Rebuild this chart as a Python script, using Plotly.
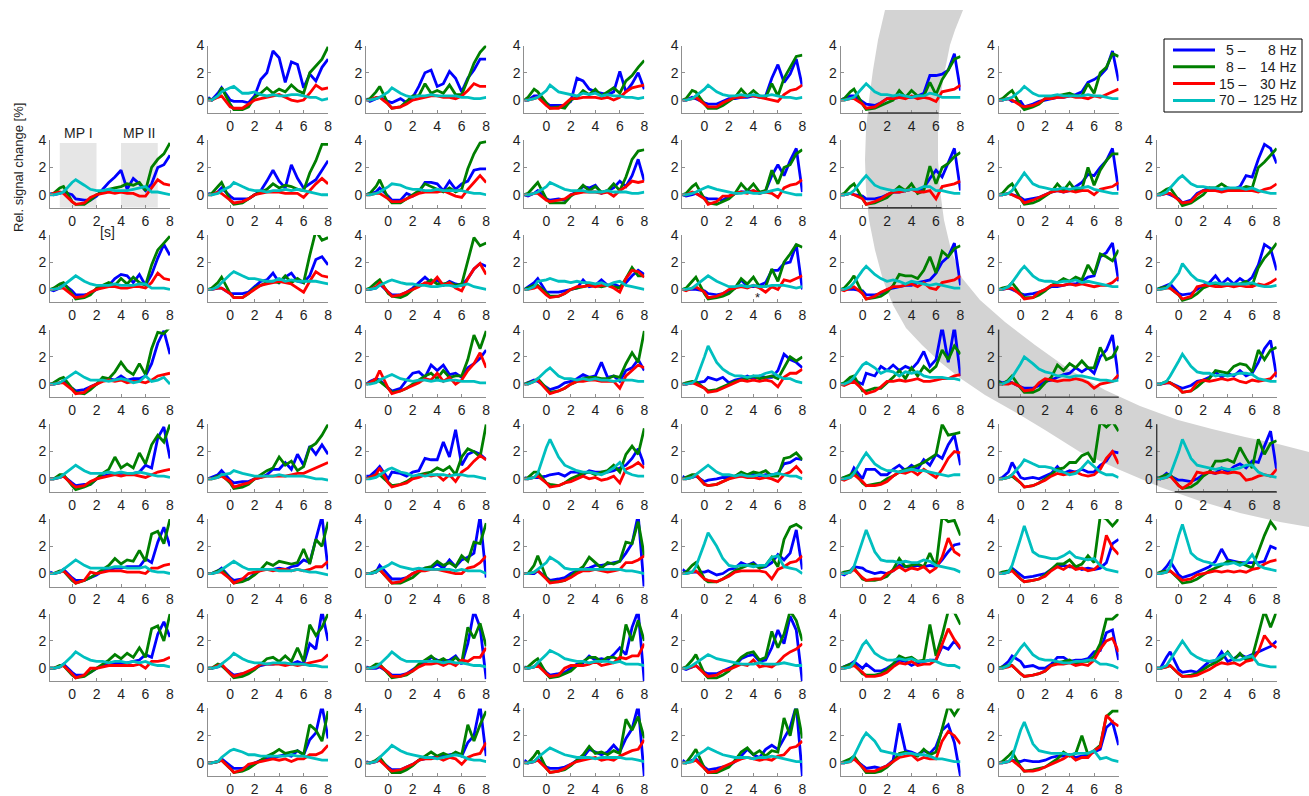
import plotly.graph_objects as go

W, H = 1309, 796

# Time axis shared by every panel [s]
time_s = [-1.8, -1.5, -1.0, -0.7, 0.0, 0.3, 1.0, 1.5, 2.0, 2.5, 3.0, 3.5,
          4.0, 4.5, 5.0, 5.5, 6.0, 6.5, 7.0, 7.5, 8.0]

band_left_text = ["5 –", "8 –", "15 –", "70 –"]
band_right_text = ["8 Hz", "14 Hz", "30 Hz", "125 Hz"]
band_colors = ["#0000ff", "#007f00", "#ff0000", "#00bfbf"]

x_ticks = [0, 2, 4, 6, 8]
y_ticks = [0, 2, 4]

# ---- relative signal change [%] per electrode: b = 5-8 Hz, g = 8-14 Hz, r = 15-30 Hz, c = 70-125 Hz
# row 0
b01 = [0.2,0.0,0.5,0.9,0.0,-0.1,-0.1,-0.2,0.3,1.5,2.0,3.6,3.1,1.3,2.8,2.6,0.9,1.9,1.4,2.4,3.0]
g01 = [0.1,0.0,0.3,0.9,-0.3,-0.7,-0.7,-0.5,0.2,0.5,0.9,0.5,0.8,0.6,1.1,0.7,0.5,2.0,2.5,3.0,3.9]
r01 = [0.0,0.0,0.2,0.3,-0.5,-0.6,-0.6,-0.3,0.0,0.1,0.2,0.3,0.4,0.2,0.0,-0.1,0.0,0.5,1.1,0.8,0.9]
c01 = [0.0,0.0,0.3,0.6,0.9,1.0,0.5,0.5,0.6,0.4,0.3,0.4,0.3,0.3,0.4,0.4,0.3,0.2,0.2,0.0,0.1]
b02 = [0.1,-0.1,0.1,0.2,-0.1,-0.2,0.1,-0.2,0.2,1.0,2.0,2.2,1.0,1.2,2.1,1.6,0.6,1.6,2.2,3.0,3.0]
g02 = [0.0,0.1,0.6,1.0,-0.3,-0.6,-0.5,-0.1,0.3,0.3,1.2,0.5,0.7,0.5,1.1,0.4,0.4,1.5,2.7,3.5,4.0]
r02 = [0.0,0.0,0.2,0.2,-0.3,-0.6,-0.5,-0.3,0.0,0.1,0.2,0.3,0.3,0.2,0.2,0.1,0.3,0.7,1.2,1.0,1.0]
c02 = [0.0,0.0,0.1,0.2,0.6,0.9,0.5,0.3,0.2,0.3,0.3,0.4,0.3,0.3,0.3,0.3,0.2,0.2,0.1,0.1,0.2]
b03 = [0.0,0.0,0.3,0.3,-0.2,-0.4,-0.4,-0.4,-0.1,1.6,1.4,0.8,0.6,0.5,0.4,0.6,2.1,0.6,1.2,2.0,0.8]
g03 = [0.0,0.2,0.8,0.6,-0.2,-0.6,-0.5,-0.6,0.0,0.2,0.7,0.4,0.8,0.3,0.6,0.9,0.5,1.4,1.8,2.4,2.9]
r03 = [0.0,0.0,0.1,0.2,-0.4,-0.6,-0.6,-0.3,0.1,0.1,0.2,0.2,0.2,0.1,0.2,0.0,0.2,0.6,0.9,1.0,1.1]
c03 = [0.0,0.0,0.1,0.2,0.7,1.1,0.6,0.5,0.4,0.3,0.5,0.4,0.5,0.3,0.4,0.3,0.3,0.2,0.2,0.1,0.2]
b04 = [0.0,0.0,0.2,0.1,-0.2,-0.3,-0.3,-0.1,0.1,0.1,0.2,0.2,0.3,0.2,0.3,1.6,2.6,1.3,1.9,3.0,1.0]
g04 = [0.0,0.1,0.7,0.6,-0.3,-0.6,-0.6,-0.4,-0.1,0.2,0.8,0.3,0.7,0.3,0.2,1.2,0.3,1.6,2.4,3.2,3.3]
r04 = [0.0,0.0,0.1,0.2,-0.3,-0.5,-0.5,-0.2,0.0,0.2,0.2,0.3,0.3,0.2,0.1,0.0,-0.1,0.4,0.7,0.8,1.1]
c04 = [0.0,0.0,0.1,0.3,0.8,1.1,0.6,0.4,0.3,0.3,0.4,0.3,0.4,0.3,0.3,0.4,0.3,0.2,0.2,0.1,0.2]
b05 = [0.0,0.1,0.3,0.3,-0.1,-0.3,-0.4,-0.2,0.1,0.1,0.2,0.2,0.2,0.3,0.5,1.8,1.8,1.9,2.2,3.4,0.7]
g05 = [0.0,0.1,0.6,0.8,-0.3,-0.7,-0.6,-0.4,-0.2,0.0,0.7,0.2,0.7,0.3,0.3,1.3,0.4,1.5,2.2,3.0,3.2]
r05 = [0.0,0.0,0.1,0.1,-0.3,-0.6,-0.5,-0.2,0.1,0.1,0.2,0.1,0.3,0.1,0.2,0.1,-0.1,0.6,0.7,0.8,1.1]
c05 = [0.0,0.0,0.1,0.2,0.9,1.2,0.6,0.4,0.4,0.3,0.4,0.3,0.2,0.3,0.3,0.5,0.4,0.2,0.2,0.2,0.2]
b06 = [0.0,0.0,0.1,-0.1,-0.1,-0.5,-0.3,-0.1,0.0,0.1,0.2,0.2,0.3,0.4,0.6,1.3,1.5,1.8,2.3,3.6,1.4]
g06 = [0.0,0.1,0.5,0.7,-0.4,-0.7,-0.5,-0.3,0.1,0.1,0.3,0.4,0.5,0.3,0.3,1.2,0.5,2.0,2.4,3.4,3.2]
r06 = [0.0,0.0,0.1,0.0,-0.4,-0.5,-0.4,-0.2,0.1,0.1,0.2,0.2,0.3,0.2,0.2,0.1,0.3,0.2,0.4,0.6,0.8]
c06 = [0.0,0.0,0.1,0.2,0.7,1.0,0.5,0.3,0.3,0.3,0.4,0.3,0.3,0.3,0.3,0.4,0.3,0.3,0.2,0.1,0.1]
# row 1
b10 = [0.1,0.0,0.1,0.2,0.0,-0.3,-0.4,-0.4,-0.1,0.4,0.9,1.3,1.8,0.4,1.2,0.8,0.3,0.8,2.0,2.2,2.9]
g10 = [0.0,0.1,0.5,0.6,-0.5,-0.7,-0.7,-0.4,0.0,0.2,0.4,0.5,0.6,0.8,0.7,0.9,0.3,2.0,2.6,3.0,3.8]
r10 = [0.0,0.1,0.2,0.1,-0.5,-0.7,-0.6,-0.2,0.0,0.1,0.2,0.1,0.2,0.1,0.1,-0.1,-0.1,0.5,1.1,0.8,0.7]
c10 = [0.0,0.0,0.1,0.2,0.9,1.1,0.7,0.4,0.3,0.3,0.4,0.3,0.3,0.3,0.4,0.5,0.6,0.2,0.2,0.1,0.0]
b11 = [0.1,0.0,0.2,0.5,-0.1,-0.3,-0.3,-0.3,0.0,0.3,1.0,1.8,1.0,0.5,2.2,1.2,0.5,0.8,1.1,1.8,2.5]
g11 = [0.0,0.1,0.6,0.9,-0.4,-0.7,-0.6,-0.3,0.0,0.2,0.4,0.8,0.5,0.7,0.6,0.4,0.3,1.6,2.5,3.7,3.7]
r11 = [0.0,0.0,0.2,0.1,-0.4,-0.6,-0.5,-0.3,0.0,0.1,0.2,0.2,0.2,0.1,0.1,0.1,-0.2,0.3,0.8,1.2,0.8]
c11 = [0.0,0.0,0.1,0.3,0.6,0.9,0.6,0.4,0.3,0.3,0.2,0.3,0.3,0.4,0.3,0.4,0.3,0.2,0.1,0.0,0.0]
b12 = [0.0,0.1,0.2,0.5,-0.1,-0.4,-0.4,0.1,-0.1,0.2,0.9,0.9,0.8,0.3,1.0,0.4,0.8,1.0,1.8,1.9,1.9]
g12 = [0.0,0.1,0.6,1.1,-0.3,-0.6,-0.6,-0.3,0.0,0.3,0.8,0.6,0.4,0.2,0.5,0.2,0.4,1.9,3.0,3.8,3.9]
r12 = [0.0,0.0,0.1,0.1,-0.3,-0.5,-0.5,-0.3,-0.1,0.1,0.2,0.2,0.2,0.3,0.1,-0.1,-0.2,0.4,0.9,1.4,0.9]
c12 = [0.0,0.0,0.1,0.2,0.6,0.8,0.7,0.5,0.4,0.4,0.3,0.3,0.4,0.3,0.3,0.3,0.3,0.2,0.1,0.1,0.0]
b13 = [0.0,-0.1,0.1,0.3,-0.3,-0.4,-0.3,-0.4,0.0,0.2,0.6,0.5,0.7,0.1,0.3,0.5,1.0,0.6,1.4,2.6,1.0]
g13 = [0.0,0.1,0.6,0.9,-0.3,-0.6,-0.6,-0.6,-0.1,0.2,0.7,0.3,0.6,0.2,0.3,0.8,0.3,1.3,2.6,3.2,3.3]
r13 = [0.0,0.0,0.1,0.1,-0.4,-0.5,-0.4,-0.3,0.0,0.1,0.2,0.2,0.2,0.1,0.2,-0.1,0.3,0.6,1.0,0.9,1.0]
c13 = [0.0,0.0,0.1,0.2,0.6,0.9,0.6,0.4,0.3,0.3,0.3,0.2,0.2,0.2,0.3,0.2,0.2,0.2,0.1,0.1,0.2]
b14 = [0.0,-0.1,0.0,0.1,-0.2,-0.3,-0.3,-0.4,-0.1,0.1,0.2,0.2,0.3,0.1,0.3,1.4,2.2,1.4,2.5,3.4,0.2]
g14 = [0.0,0.1,0.6,0.8,-0.3,-0.6,-0.7,-0.5,-0.3,0.1,0.8,0.3,0.8,0.2,0.3,1.8,0.8,2.0,2.2,3.0,3.3]
r14 = [0.0,0.0,0.2,0.1,-0.3,-0.7,-0.5,-0.1,-0.1,0.1,0.2,0.1,0.3,0.1,0.2,0.1,-0.2,0.5,0.7,0.8,1.1]
c14 = [0.0,0.0,0.1,0.2,0.5,0.6,0.4,0.3,0.2,0.1,0.1,0.2,0.1,0.1,0.2,0.3,0.4,0.2,0.1,0.0,0.0]
b15 = [0.0,0.0,0.1,0.0,-0.1,-0.3,-0.3,-0.2,0.0,0.2,0.2,0.3,0.4,0.3,0.5,1.2,1.8,1.3,2.4,3.4,0.3]
g15 = [0.0,0.1,0.6,0.8,-0.3,-0.7,-0.6,-0.4,-0.2,0.2,0.6,0.3,0.8,0.1,0.3,2.1,0.8,2.0,2.3,2.8,3.1]
r15 = [0.0,0.0,0.1,0.0,-0.3,-0.7,-0.5,-0.3,0.0,0.2,0.2,0.3,0.4,0.2,0.2,0.3,-0.3,0.6,0.7,0.8,1.0]
c15 = [0.0,0.0,0.1,0.3,1.1,1.4,0.7,0.5,0.4,0.3,0.4,0.3,0.4,0.4,0.6,0.6,0.3,0.3,0.2,0.1,0.1]
b16 = [0.0,0.0,0.1,0.0,-0.2,-0.4,-0.3,-0.2,0.0,0.2,0.3,0.2,0.3,0.6,0.9,1.5,1.4,2.0,2.5,3.4,0.3]
g16 = [0.0,0.1,0.6,0.8,-0.3,-0.7,-0.6,-0.4,-0.1,0.2,0.8,0.3,0.9,0.3,0.4,2.0,0.7,1.8,2.5,3.0,3.0]
r16 = [0.0,0.0,0.1,0.0,-0.3,-0.6,-0.4,-0.2,0.0,0.2,0.3,0.2,0.3,0.2,0.3,0.3,0.0,0.4,0.5,0.6,0.9]
c16 = [0.0,0.0,0.1,0.3,1.2,1.6,0.8,0.6,0.5,0.4,0.4,0.5,0.4,0.5,0.5,0.6,0.4,0.3,0.2,0.1,0.1]
b17 = [0.0,0.0,0.1,0.0,-0.3,-0.6,-0.4,0.1,0.3,0.5,0.3,0.3,0.5,0.4,0.6,1.4,1.3,2.6,3.7,3.4,2.3]
g17 = [0.0,0.1,0.4,0.5,-0.4,-0.8,-0.6,-0.3,0.0,0.5,0.5,0.8,0.5,0.4,0.4,0.6,0.5,2.0,2.4,2.9,3.4]
r17 = [0.0,0.0,0.1,0.1,-0.4,-0.6,-0.5,0.0,0.3,0.3,0.3,0.2,0.3,0.3,0.3,0.3,0.3,0.2,0.4,0.5,0.8]
c17 = [0.0,0.0,0.2,0.5,1.2,1.4,0.8,0.6,0.6,0.5,0.5,0.4,0.5,0.5,0.5,0.4,0.5,0.3,0.2,0.1,0.1]
# row 2
b20 = [0.0,-0.1,0.1,0.4,-0.1,-0.4,-0.4,-0.3,0.0,0.2,0.3,0.8,1.1,1.0,0.5,1.1,0.3,1.1,2.3,3.3,2.5]
g20 = [0.0,0.1,0.4,0.5,-0.3,-0.7,-0.6,-0.4,0.1,0.3,0.5,0.3,0.8,0.4,0.9,0.5,0.3,1.8,2.9,3.4,3.9]
r20 = [0.0,0.0,0.1,0.1,-0.4,-0.6,-0.5,-0.2,0.0,0.1,0.2,0.2,0.1,0.1,0.2,0.2,0.1,0.5,1.2,0.8,0.7]
c20 = [0.0,0.0,0.1,0.3,0.8,1.0,0.6,0.4,0.3,0.3,0.3,0.4,0.3,0.3,0.3,0.4,0.4,0.1,0.1,0.1,0.0]
b21 = [0.0,0.0,0.1,0.1,-0.3,-0.3,-0.3,-0.2,0.2,0.6,0.7,1.2,0.5,0.9,1.2,0.6,0.5,1.0,2.2,2.4,1.8]
g21 = [0.0,0.1,0.5,0.9,-0.3,-0.6,-0.6,-0.3,0.1,0.3,0.5,0.6,0.5,1.0,0.5,0.8,0.5,2.5,4.3,3.6,3.8]
r21 = [0.0,0.0,0.1,0.1,-0.3,-0.6,-0.6,-0.3,0.0,0.3,0.4,0.5,0.6,0.5,0.4,0.1,-0.2,0.6,1.3,1.0,0.9]
c21 = [0.0,0.0,0.2,0.5,1.1,1.3,1.0,0.8,0.8,0.7,0.6,0.6,0.8,0.6,0.7,0.6,0.6,0.6,0.6,0.5,0.4]
b22 = [0.0,0.0,0.1,0.4,-0.2,-0.4,-0.4,-0.2,0.1,0.5,0.9,0.5,0.7,0.3,0.6,0.4,0.3,0.8,1.5,1.9,1.7]
g22 = [0.0,0.1,0.5,0.7,-0.3,-0.5,-0.6,-0.4,0.0,0.3,0.4,0.7,0.4,0.4,0.5,0.3,0.4,2.0,3.8,3.2,3.4]
r22 = [0.0,0.0,0.2,0.5,-0.2,-0.5,-0.4,-0.2,0.0,0.2,0.5,0.4,0.9,0.3,0.5,0.1,-0.1,0.8,1.5,1.9,1.1]
c22 = [0.0,0.0,0.1,0.3,0.6,0.7,0.5,0.4,0.4,0.3,0.3,0.2,0.2,0.3,0.3,0.2,0.3,0.4,0.2,0.1,0.0]
b23 = [0.0,0.2,0.5,0.8,-0.2,-0.2,-0.2,-0.1,0.0,0.1,0.7,0.2,0.3,0.7,0.3,0.4,0.2,0.5,1.0,1.4,1.1]
g23 = [0.0,0.1,0.3,0.3,-0.3,-0.5,-0.5,-0.3,0.0,0.1,0.2,0.3,0.3,0.2,0.3,0.2,0.1,0.8,1.6,1.0,1.0]
r23 = [0.0,0.0,0.1,0.2,-0.4,-0.6,-0.5,-0.3,0.0,0.2,0.2,0.3,0.2,0.3,0.3,0.1,-0.2,0.8,1.4,1.3,0.9]
c23 = [0.0,0.0,0.2,0.6,0.7,0.8,0.6,0.6,0.5,0.6,0.5,0.5,0.4,0.5,0.3,0.5,0.6,0.3,0.2,0.1,0.0]
b24 = [0.0,0.0,0.0,0.0,-0.1,-0.3,-0.4,-0.3,-0.1,0.1,0.7,0.2,0.2,0.3,0.5,1.4,1.4,1.9,2.0,3.3,0.0]
g24 = [0.0,0.1,0.6,0.9,-0.3,-0.7,-0.6,-0.5,-0.3,0.1,0.8,0.4,0.9,0.2,0.2,1.5,0.6,2.0,2.6,3.3,3.1]
r24 = [0.0,-0.1,0.1,0.2,-0.2,-0.6,-0.5,-0.3,0.0,0.1,0.2,0.1,0.3,0.1,-0.2,0.2,0.0,0.7,0.6,0.8,1.0]
c24 = [0.0,0.0,0.1,0.3,0.8,1.0,0.6,0.4,0.2,0.2,0.3,0.2,0.3,0.2,0.2,0.3,0.3,0.3,0.2,0.1,0.2]
b25 = [0.0,0.0,0.0,0.0,-0.1,-0.4,-0.4,-0.3,0.0,0.1,0.2,0.3,0.3,0.5,0.6,0.7,1.2,2.0,2.4,3.4,0.3]
g25 = [0.0,0.1,0.6,1.0,-0.3,-0.7,-0.6,-0.5,-0.2,0.3,1.1,1.0,1.0,0.8,1.4,2.4,1.2,2.8,2.4,3.0,3.2]
r25 = [0.0,-0.1,0.1,0.2,-0.3,-0.7,-0.5,-0.2,0.0,0.2,0.2,0.3,0.4,0.2,0.5,0.1,0.0,0.5,0.6,0.7,1.0]
c25 = [0.0,0.0,0.2,0.5,1.4,1.7,1.1,0.8,0.6,0.7,0.6,0.4,0.6,0.5,0.4,0.3,0.4,0.3,0.2,0.1,0.1]
b26 = [0.0,0.0,0.1,0.0,-0.3,-0.4,-0.3,-0.2,0.0,0.2,0.2,0.3,0.4,0.4,0.6,0.9,1.0,2.4,2.7,3.4,0.6]
g26 = [0.0,0.1,0.2,0.5,-0.3,-0.6,-0.6,-0.4,-0.1,0.3,0.5,0.8,0.6,0.9,0.7,1.8,1.1,2.6,2.4,2.1,2.9]
r26 = [0.0,0.0,0.1,0.1,-0.4,-0.7,-0.6,-0.2,0.0,0.3,0.3,0.3,0.4,0.3,0.4,0.3,0.2,0.3,0.3,0.5,0.9]
c26 = [0.0,0.0,0.2,0.5,1.4,1.7,1.0,0.7,0.6,0.6,0.5,0.6,0.6,0.7,0.5,0.6,0.5,0.4,0.3,0.2,0.2]
b27 = [0.0,0.1,0.3,0.4,-0.3,-0.4,-0.3,0.0,0.3,0.5,1.0,0.4,0.8,0.4,0.8,0.5,0.9,1.8,3.3,3.0,1.4]
g27 = [0.0,0.1,0.2,0.1,-0.4,-0.8,-0.6,-0.3,0.1,0.3,0.4,0.3,0.4,0.3,0.4,0.6,0.3,1.6,2.3,2.8,3.4]
r27 = [0.0,0.0,0.1,0.1,-0.4,-0.7,-0.5,0.2,0.3,0.3,0.2,0.2,0.3,0.2,0.3,0.2,0.2,0.4,0.3,0.5,0.8]
c27 = [0.0,0.0,0.1,0.4,1.2,1.9,1.1,0.7,0.6,0.4,0.5,0.4,0.4,0.4,0.4,0.4,0.5,0.3,0.2,0.2,0.3]
# row 3
b30 = [0.0,0.0,0.1,0.2,-0.3,-0.5,-0.4,-0.2,0.0,0.3,0.4,0.3,0.6,0.3,0.4,0.4,0.6,1.5,3.0,3.9,2.2]
g30 = [0.0,0.1,0.4,0.5,-0.3,-0.6,-0.7,-0.4,0.0,0.5,0.4,0.9,1.6,1.0,0.7,1.5,0.7,2.6,3.8,3.7,4.2]
r30 = [0.0,0.0,0.1,0.1,-0.4,-0.7,-0.6,-0.2,0.0,0.2,0.3,0.2,0.3,0.1,0.2,0.2,0.1,0.3,0.6,0.7,0.8]
c30 = [0.0,0.0,0.1,0.3,0.7,0.9,0.5,0.3,0.3,0.3,0.2,0.3,0.4,0.3,0.1,0.2,0.6,0.2,0.3,0.5,0.0]
b32 = [0.0,0.2,0.4,0.3,-0.3,-0.5,-0.3,0.3,0.8,0.9,0.5,1.4,1.0,1.4,0.7,0.8,0.5,1.2,1.5,1.9,2.5]
g32 = [0.0,0.1,0.3,0.2,-0.3,-0.6,-0.5,-0.3,0.0,0.3,0.6,0.8,0.4,1.0,0.5,0.6,0.6,1.8,3.6,2.6,3.9]
r32 = [0.0,0.1,0.4,1.0,-0.3,-0.7,-0.5,-0.3,-0.1,0.1,0.4,0.3,0.8,0.2,0.5,0.0,0.3,1.0,1.5,2.3,1.2]
c32 = [0.0,0.0,0.1,0.3,0.6,0.7,0.4,0.3,0.2,0.3,0.3,0.2,0.3,0.2,0.3,0.3,0.2,0.2,0.2,0.1,0.1]
b33 = [0.0,0.1,0.3,0.2,-0.2,-0.4,-0.2,0.1,0.2,0.4,0.7,0.5,0.6,1.6,0.5,0.6,0.2,1.0,1.2,1.8,1.0]
g33 = [0.0,0.1,0.2,0.4,-0.3,-0.6,-0.5,-0.3,0.0,0.2,0.4,0.5,0.5,0.4,0.4,0.6,0.5,1.5,2.3,1.6,3.9]
r33 = [0.0,0.0,0.2,0.3,-0.4,-0.7,-0.5,-0.3,0.0,0.2,0.2,0.3,0.3,0.2,0.2,0.2,-0.3,0.6,1.0,1.4,1.2]
c33 = [0.0,0.0,0.2,0.4,1.0,1.2,0.6,0.4,0.4,0.3,0.4,0.3,0.4,0.3,0.3,0.2,0.3,0.3,0.3,0.2,0.2]
b34 = [0.0,0.0,0.1,0.1,0.2,0.5,0.3,0.5,0.1,0.3,0.4,0.6,0.4,0.6,0.5,0.5,1.0,2.2,1.8,1.6,1.2]
g34 = [0.0,0.1,0.2,0.2,-0.3,-0.5,-0.4,-0.2,0.0,0.2,0.3,0.4,0.6,0.4,0.5,0.6,0.4,1.2,2.0,1.7,2.0]
r34 = [0.0,0.0,0.1,0.0,-0.3,-0.6,-0.5,-0.3,-0.1,0.1,0.3,0.2,0.3,0.2,0.3,0.2,-0.2,0.5,0.8,0.8,1.1]
c34 = [0.0,0.0,0.1,0.3,2.0,2.8,1.6,1.1,0.8,0.6,0.6,0.5,0.6,0.6,0.8,0.9,0.6,0.4,0.4,0.2,0.1]
b35 = [0.0,0.0,0.2,0.3,0.0,0.8,0.6,1.3,1.0,1.4,1.0,1.3,1.1,1.6,2.4,1.3,1.8,4.2,1.6,4.2,0.6]
g35 = [0.0,0.1,0.5,0.6,-0.5,-0.5,-0.3,-0.3,0.1,0.5,1.0,0.4,1.2,0.6,1.3,0.9,1.3,2.5,1.8,2.8,2.2]
r35 = [0.0,-0.1,0.1,0.2,-0.4,-0.7,-0.5,-0.2,0.2,0.2,0.3,0.2,0.3,0.4,0.2,0.2,0.3,0.4,0.4,0.6,0.7]
c35 = [0.0,0.0,0.2,0.5,1.4,1.6,1.2,0.8,1.0,0.9,0.6,0.9,0.8,0.9,0.6,0.5,0.5,0.5,0.4,0.4,0.3]
b36 = [0.2,0.1,0.2,0.1,-0.2,-0.3,-0.3,-0.1,0.2,0.3,0.5,0.7,0.8,1.2,0.9,1.2,0.8,2.0,2.5,3.6,0.4]
g36 = [0.2,0.0,0.3,0.6,-0.3,-0.6,-0.6,-0.4,0.1,0.5,1.4,1.0,1.5,1.2,1.7,1.2,1.2,2.7,1.8,2.0,2.8]
r36 = [0.0,0.0,0.0,0.1,-0.2,-0.5,-0.4,0.1,0.4,0.3,0.2,0.3,0.3,0.4,0.3,0.1,-0.3,0.0,0.1,0.2,0.7]
c36 = [0.0,0.0,0.2,0.5,1.5,2.0,1.5,1.1,0.9,0.8,0.6,0.6,0.5,0.6,0.6,0.5,0.4,0.3,0.3,0.2,0.3]
b37 = [0.0,0.0,0.1,0.1,-0.2,-0.3,-0.1,0.2,0.3,0.5,0.9,0.5,0.8,0.6,1.0,0.6,0.8,1.6,2.6,3.2,0.5]
g37 = [0.0,0.0,0.2,0.1,-0.3,-0.6,-0.5,-0.2,0.2,0.4,1.0,0.9,0.8,1.3,1.5,1.4,0.9,2.5,1.8,2.5,2.7]
r37 = [0.0,0.0,0.1,0.1,-0.3,-0.6,-0.5,0.1,0.3,0.2,0.3,0.4,0.3,0.4,0.2,0.1,0.3,0.2,0.3,0.4,0.9]
c37 = [0.0,0.0,0.2,0.6,1.7,2.2,1.3,0.9,0.8,0.8,0.6,0.7,0.6,0.7,0.8,0.8,0.7,0.4,0.3,0.2,0.2]
# row 4
b40 = [0.0,0.0,0.1,0.2,-0.3,-0.5,-0.4,-0.4,0.0,0.2,0.3,0.4,0.4,0.4,0.4,0.5,1.0,0.8,3.0,3.8,1.5]
g40 = [0.0,0.0,0.3,0.3,-0.5,-0.8,-0.6,-0.4,0.0,0.4,0.7,1.6,0.8,1.1,0.8,1.9,1.1,2.5,3.2,2.7,4.0]
r40 = [0.0,0.0,0.1,0.2,-0.4,-0.6,-0.5,-0.2,0.0,0.1,0.2,0.3,0.2,0.3,0.3,0.2,0.1,0.3,0.5,0.6,0.7]
c40 = [0.0,0.0,0.1,0.3,0.8,1.0,0.6,0.4,0.4,0.4,0.5,0.4,0.5,0.4,0.4,0.5,0.4,0.3,0.2,0.2,0.1]
b41 = [0.0,0.1,0.3,0.6,-0.1,-0.3,-0.2,-0.2,0.0,0.1,0.3,0.7,0.7,1.2,0.7,1.8,1.0,2.4,1.8,2.5,1.8]
g41 = [0.0,0.0,0.2,0.3,-0.3,-0.7,-0.6,-0.4,0.0,0.3,0.6,0.8,1.6,1.0,1.3,0.6,0.9,2.3,2.6,3.2,4.0]
r41 = [0.0,0.0,0.1,0.2,-0.2,-0.6,-0.4,-0.3,0.0,0.1,0.2,0.2,0.2,0.2,0.3,0.4,0.4,0.6,0.8,1.0,1.2]
c41 = [0.0,0.0,0.1,0.3,0.4,0.6,0.4,0.3,0.2,0.2,0.2,0.2,0.3,0.2,0.2,0.2,0.2,0.1,0.0,0.0,-0.1]
b42 = [0.2,0.2,0.6,0.9,0.0,0.5,0.4,0.2,0.5,0.6,1.5,1.4,1.4,2.7,1.6,3.6,1.0,1.8,2.0,1.8,1.4]
g42 = [0.0,0.1,0.3,0.3,-0.3,-0.5,-0.4,-0.2,0.1,0.3,0.4,0.5,0.8,0.6,0.9,0.3,1.6,2.2,2.0,1.6,4.0]
r42 = [0.0,0.1,0.3,0.8,-0.3,-0.6,-0.4,-0.3,0.0,0.1,0.3,0.2,0.3,-0.1,0.3,-0.2,0.5,0.8,1.3,1.7,1.4]
c42 = [0.0,0.0,0.1,0.3,0.7,0.8,0.5,0.4,0.2,0.3,0.2,0.3,0.3,0.3,0.2,0.3,0.3,0.2,0.2,0.1,0.0]
b43 = [0.1,0.0,0.1,0.1,0.2,0.3,0.4,0.2,0.5,0.5,0.3,0.6,0.5,0.5,0.5,0.6,0.8,1.0,1.5,2.2,1.0]
g43 = [0.0,0.1,0.5,0.5,-0.3,-0.4,-0.5,-0.3,0.0,0.2,0.4,0.5,0.3,0.5,0.6,1.0,0.5,1.8,2.4,1.8,3.7]
r43 = [0.0,0.0,0.1,0.2,-0.3,-0.6,-0.5,-0.3,-0.2,0.0,0.2,0.0,0.1,-0.1,0.0,0.2,-0.3,0.7,0.9,1.2,0.8]
c43 = [0.0,0.0,0.1,0.4,2.3,2.9,1.6,1.0,0.8,0.6,0.5,0.5,0.4,0.3,0.5,0.8,1.2,0.5,0.3,0.2,0.2]
b44 = [0.2,0.0,0.1,0.2,-0.2,-0.1,0.0,0.1,0.1,0.2,0.2,0.3,0.4,0.2,0.3,0.3,0.4,1.1,1.2,1.5,1.4]
g44 = [0.0,0.1,0.3,0.3,-0.4,-0.5,-0.4,-0.2,0.0,0.2,0.5,0.3,0.5,0.4,0.6,0.2,0.2,1.5,1.6,1.9,1.4]
r44 = [0.0,0.0,0.1,0.3,-0.4,-0.5,-0.4,-0.2,0.0,0.1,0.2,0.1,0.1,0.0,0.1,0.0,-0.2,0.3,0.5,0.9,0.4]
c44 = [0.0,0.0,0.1,0.3,0.8,1.0,0.5,0.3,0.3,0.2,0.3,0.2,0.2,0.3,0.2,0.3,0.4,0.3,0.2,0.2,0.0]
b45 = [0.0,0.1,0.2,0.8,0.0,0.7,0.7,0.3,0.3,0.7,1.0,0.6,1.0,0.7,1.4,1.0,1.8,1.5,2.5,3.2,1.0]
g45 = [0.0,0.1,0.3,0.5,-0.3,-0.5,-0.4,-0.3,0.0,0.2,0.5,0.7,0.8,1.0,1.2,1.5,1.8,4.0,3.2,3.3,3.4]
r45 = [0.0,-0.1,0.1,0.3,-0.2,-0.5,-0.5,-0.4,-0.2,0.2,0.5,0.4,0.6,0.3,0.7,0.4,0.1,0.7,1.5,2.0,1.9]
c45 = [0.0,0.0,0.1,0.4,1.5,1.9,1.1,0.8,0.6,0.6,0.5,0.6,0.7,0.6,0.6,0.5,0.4,0.3,0.2,0.3,0.3]
b46 = [0.0,0.1,0.5,1.2,0.1,0.0,0.1,0.0,0.2,0.4,0.9,0.4,0.6,0.5,0.7,0.5,0.5,1.0,1.3,2.0,1.9]
g46 = [0.0,0.0,0.1,0.2,-0.3,-0.6,-0.5,-0.3,0.0,0.3,0.7,0.8,1.2,1.2,1.7,1.9,1.2,4.2,3.8,4.2,3.5]
r46 = [0.0,0.0,0.1,0.3,-0.3,-0.6,-0.5,-0.3,-0.1,0.2,0.4,0.3,0.4,0.5,0.3,0.2,0.3,0.7,1.5,2.0,1.1]
c46 = [0.0,0.0,0.1,0.3,1.0,1.4,1.1,0.9,0.9,0.8,0.6,0.5,0.3,0.4,0.8,1.3,0.9,0.5,0.3,0.3,0.1]
b47 = [0.1,0.0,0.4,0.2,-0.1,-0.1,-0.2,0.0,0.3,0.5,0.4,0.8,0.5,0.9,1.1,0.8,1.3,1.2,2.4,3.5,0.6]
g47 = [0.0,0.1,0.3,0.3,-0.5,-0.7,-0.6,-0.3,0.2,0.5,1.3,1.3,1.4,1.2,2.3,1.5,0.8,2.9,1.8,2.6,2.8]
r47 = [0.0,0.0,0.1,0.2,-0.5,-0.7,-0.3,0.5,0.4,0.5,0.4,0.5,0.4,0.5,0.4,-0.1,0.0,0.2,0.3,0.2,0.7]
c47 = [0.0,0.0,0.1,0.3,2.0,2.9,1.5,1.0,0.9,0.8,0.7,0.8,0.7,0.7,0.8,1.0,1.0,0.5,0.3,0.2,0.1]
# row 5
b50 = [0.1,0.0,0.1,0.3,-0.3,-0.5,-0.5,-0.3,-0.1,0.2,0.3,0.4,0.4,0.5,0.5,0.5,1.1,0.8,2.3,3.4,2.0]
g50 = [0.0,0.0,0.2,0.2,-0.5,-0.7,-0.5,-0.3,0.0,0.3,0.6,1.1,0.7,1.0,0.9,1.7,0.9,2.9,3.1,2.2,4.0]
r50 = [0.0,0.0,0.1,0.2,-0.4,-0.7,-0.5,0.1,0.0,0.1,0.2,0.2,0.2,0.1,0.1,0.1,0.0,0.4,0.4,0.6,0.7]
c50 = [0.0,0.0,0.1,0.3,0.8,1.0,0.6,0.4,0.4,0.4,0.4,0.5,0.5,0.4,0.4,0.4,0.5,0.2,0.1,0.1,0.0]
b51 = [0.0,0.0,0.2,0.4,-0.3,-0.5,-0.4,-0.4,0.0,0.3,0.3,0.3,0.4,0.3,0.5,0.6,1.0,0.8,2.5,4.2,0.3]
g51 = [0.0,0.0,0.2,0.3,-0.4,-0.7,-0.6,-0.4,-0.1,0.3,0.8,0.6,0.9,0.8,0.7,0.8,1.8,0.7,2.5,2.0,3.8]
r51 = [0.0,0.0,0.1,0.1,-0.4,-0.7,-0.4,0.0,0.1,0.2,0.3,0.2,0.3,0.3,0.2,0.3,0.2,0.3,0.5,0.5,0.9]
c51 = [0.0,0.0,0.1,0.3,0.7,0.9,0.5,0.3,0.3,0.3,0.3,0.3,0.2,0.2,0.2,0.3,0.2,0.1,0.1,0.0,-0.1]
b52 = [0.0,0.0,0.1,0.6,-0.1,-0.4,-0.4,-0.3,0.0,0.2,0.4,0.4,0.7,0.4,1.0,0.5,1.0,1.2,1.5,4.2,-0.3]
g52 = [0.0,0.0,0.2,0.3,-0.4,-0.7,-0.7,-0.5,-0.3,0.1,0.4,0.5,0.9,0.6,0.8,0.5,1.3,0.9,2.3,2.2,3.7]
r52 = [0.0,0.0,0.1,0.3,-0.4,-0.7,-0.6,-0.3,0.0,0.2,0.2,0.3,0.3,0.2,0.1,0.0,0.0,0.4,0.5,0.8,1.3]
c52 = [0.0,0.0,0.1,0.3,0.6,0.8,0.5,0.4,0.3,0.4,0.3,0.3,0.3,0.3,0.3,0.2,0.3,0.2,0.2,0.2,0.0]
b53 = [0.0,0.0,0.0,0.2,-0.3,-0.5,-0.4,-0.3,0.0,0.2,0.3,0.4,0.6,0.6,0.7,0.8,0.9,1.5,2.2,4.3,-1.2]
g53 = [0.0,0.0,0.6,1.3,-0.3,-0.6,-0.6,-0.5,-0.2,0.2,0.5,1.2,0.8,0.4,0.8,0.7,0.9,2.3,2.2,3.8,1.3]
r53 = [0.0,0.0,0.1,0.2,-0.4,-0.7,-0.6,-0.5,-0.3,0.0,0.2,0.2,0.3,0.2,0.1,0.2,0.3,0.8,0.8,1.0,1.3]
c53 = [0.0,0.0,0.1,0.3,0.8,1.2,0.8,0.4,0.3,0.3,0.3,0.3,0.3,0.3,0.3,0.3,0.3,0.2,0.2,0.1,0.0]
b54 = [0.3,0.1,0.1,0.1,0.1,0.2,-0.1,0.0,0.3,0.4,0.8,0.6,0.8,0.4,0.5,0.8,1.4,1.0,1.5,3.2,0.3]
g54 = [0.0,0.1,0.6,0.8,-0.4,-0.6,-0.6,-0.4,-0.1,0.2,0.4,0.6,0.7,0.4,0.6,1.2,0.5,2.5,3.4,3.6,3.3]
r54 = [0.0,0.0,0.1,0.2,-0.4,-0.5,-0.6,-0.4,-0.2,0.1,0.2,0.2,0.2,0.2,0.1,-0.4,0.3,0.5,0.8,0.9,1.3]
c54 = [0.0,0.0,0.1,0.5,2.2,3.0,2.0,1.1,0.6,0.5,0.6,0.6,0.5,0.6,0.6,1.2,1.3,0.5,0.4,0.3,0.0]
b55 = [0.0,-0.1,0.2,0.5,0.4,0.2,0.0,0.1,0.0,0.2,0.6,0.5,0.5,0.6,0.5,0.6,0.5,1.0,1.6,2.1,2.2]
g55 = [0.0,0.1,0.2,0.4,-0.4,-0.5,-0.5,-0.4,-0.2,0.3,1.1,0.5,0.6,0.7,0.5,1.5,0.5,4.2,3.8,3.9,2.8]
r55 = [0.0,0.0,0.1,0.3,-0.3,-0.5,-0.4,-0.4,0.0,0.2,0.5,0.2,0.4,0.3,0.5,0.1,0.4,1.2,2.6,1.6,1.3]
c55 = [0.0,0.0,0.1,0.5,2.4,3.2,1.6,1.0,0.9,0.9,0.8,0.9,0.8,0.8,1.0,0.9,0.6,0.5,0.4,0.3,0.1]
b56 = [0.0,0.0,0.1,0.4,-0.1,-0.3,-0.2,-0.1,0.0,0.3,0.5,0.6,0.5,0.5,0.3,0.4,0.3,0.4,0.8,2.2,2.5]
g56 = [0.0,0.1,0.2,0.3,-0.4,-0.6,-0.5,-0.4,-0.1,0.3,0.7,0.7,1.0,0.5,0.7,1.3,0.8,4.2,4.0,3.5,4.0]
r56 = [0.0,0.0,0.1,0.2,-0.4,-0.6,-0.5,-0.4,-0.2,0.2,0.5,0.3,0.6,0.3,0.4,0.2,0.3,0.7,2.8,1.9,1.4]
c56 = [0.0,0.0,0.1,0.6,2.6,3.5,1.6,1.3,1.2,1.1,1.1,1.3,1.6,1.2,1.1,1.0,1.1,0.6,0.3,0.2,0.1]
b57 = [0.0,0.0,0.5,0.9,-0.1,-0.3,-0.1,0.1,0.3,0.5,0.9,1.8,1.0,0.9,0.8,0.8,0.8,0.8,0.9,2.0,1.8]
g57 = [0.0,0.1,0.2,0.2,-0.4,-0.7,-0.6,-0.4,-0.1,0.2,0.4,0.6,0.9,0.8,0.8,0.6,0.4,1.6,2.8,3.8,3.2]
r57 = [0.0,0.0,0.1,0.2,-0.3,-0.5,-0.4,-0.1,0.0,0.1,0.2,0.1,0.2,0.1,0.2,0.1,0.3,0.4,0.7,0.9,1.0]
c57 = [0.0,0.0,0.1,0.5,2.8,3.6,1.5,1.1,0.9,0.8,0.6,0.7,0.7,0.8,0.6,0.8,1.4,0.6,0.4,0.3,0.2]
# row 6
b60 = [0.0,0.0,0.1,0.3,-0.3,-0.5,-0.5,-0.3,0.0,0.2,0.3,0.4,0.4,0.4,0.5,0.6,1.0,0.8,2.5,3.4,2.3]
g60 = [0.0,0.0,0.2,0.2,-0.5,-0.7,-0.6,-0.3,0.0,0.3,0.6,1.0,0.7,1.1,0.8,1.5,0.8,2.9,3.1,2.0,4.0]
r60 = [0.0,0.0,0.1,0.2,-0.4,-0.7,-0.5,0.0,0.0,0.1,0.2,0.2,0.2,0.2,0.2,0.3,0.0,0.5,0.5,0.6,0.8]
c60 = [0.0,0.0,0.1,0.3,0.9,1.2,0.8,0.6,0.5,0.5,0.4,0.5,0.5,0.4,0.5,0.4,0.5,0.3,0.2,0.2,0.1]
b61 = [0.0,0.0,0.1,0.2,-0.3,-0.5,-0.4,-0.3,0.0,0.2,0.3,0.3,0.4,0.3,0.3,0.5,0.3,1.8,1.4,4.2,2.0]
g61 = [0.0,0.0,0.3,0.2,-0.4,-0.7,-0.6,-0.4,-0.1,0.3,0.7,0.8,0.5,0.9,0.5,1.5,0.5,3.2,2.4,3.0,4.0]
r61 = [0.0,0.0,0.2,0.3,-0.4,-0.6,-0.4,-0.2,0.0,0.3,0.3,0.3,0.3,0.2,0.3,0.2,0.3,0.4,0.5,0.6,1.0]
c61 = [0.0,0.0,0.1,0.3,0.8,1.1,0.7,0.5,0.4,0.4,0.3,0.4,0.4,0.4,0.3,0.3,0.3,0.2,0.2,0.1,0.1]
b62 = [0.1,0.0,0.0,0.1,-0.3,-0.5,-0.5,-0.4,-0.1,0.2,0.4,0.8,0.6,0.5,0.6,0.9,0.3,1.8,4.2,3.0,-0.8]
g62 = [0.0,0.0,0.3,0.3,-0.4,-0.7,-0.6,-0.5,-0.2,0.3,0.6,0.9,0.5,0.7,0.4,0.8,0.4,3.0,2.2,3.3,1.6]
r62 = [0.0,0.0,0.1,0.2,-0.3,-0.6,-0.6,-0.4,-0.2,0.1,0.3,0.3,0.4,0.2,0.4,0.2,0.6,0.5,0.8,0.8,1.5]
c62 = [0.0,0.0,0.1,0.3,0.9,1.2,0.7,0.5,0.5,0.5,0.5,0.5,0.5,0.4,0.5,0.4,0.4,0.3,0.2,0.2,0.1]
b63 = [0.1,0.0,0.1,0.3,-0.3,-0.5,-0.4,-0.3,0.0,0.3,0.4,0.9,0.6,0.7,0.6,1.0,1.5,1.0,3.0,4.2,-1.0]
g63 = [0.0,0.1,0.5,0.7,-0.4,-0.7,-0.6,-0.4,-0.2,0.2,0.5,0.8,0.8,0.5,0.8,0.8,0.6,3.2,2.0,3.5,2.0]
r63 = [0.0,0.0,0.1,0.2,-0.4,-0.6,-0.5,0.0,0.2,0.2,0.2,0.3,0.5,0.2,0.3,0.4,0.8,0.7,0.9,0.9,1.8]
c63 = [0.0,0.0,0.1,0.4,1.0,1.3,1.0,0.7,0.6,0.5,0.5,0.4,0.5,0.5,0.5,0.4,0.5,0.3,0.3,0.3,0.2]
b64 = [0.0,-0.1,0.1,0.2,-0.3,-0.4,-0.4,-0.2,0.0,0.2,0.7,0.9,1.0,0.5,0.6,1.5,2.8,1.8,3.8,2.8,-1.0]
g64 = [0.0,0.1,0.6,1.0,-0.4,-0.7,-0.7,-0.5,-0.2,0.3,0.8,1.1,1.2,0.6,0.8,2.7,1.5,2.5,4.2,3.5,2.0]
r64 = [0.0,0.0,0.1,0.2,-0.4,-0.6,-0.5,-0.2,-0.1,0.1,0.3,0.2,0.6,0.1,0.2,0.1,0.4,0.9,1.2,1.4,1.8]
c64 = [0.0,0.0,0.2,0.4,0.8,1.0,0.7,0.6,0.5,0.4,0.3,0.3,0.3,0.4,0.3,0.3,0.3,0.4,0.3,0.2,0.2]
b65 = [0.0,0.1,0.3,0.5,0.0,0.3,-0.2,-0.2,0.0,0.3,0.6,0.5,0.2,0.4,0.5,0.6,0.6,1.6,1.4,2.0,1.4]
g65 = [0.0,0.1,0.3,0.3,-0.4,-0.5,-0.5,-0.4,-0.1,0.3,0.9,0.7,0.8,0.5,0.6,3.2,0.9,2.4,4.2,4.1,3.2]
r65 = [0.0,0.0,0.1,0.2,-0.3,-0.6,-0.6,-0.5,-0.3,0.1,0.4,0.3,0.5,0.2,0.3,0.3,0.6,1.8,2.9,2.1,1.5]
c65 = [0.0,0.0,0.1,0.4,1.7,2.0,1.1,0.8,0.6,0.6,0.7,0.6,0.7,0.5,0.5,0.6,0.5,0.3,0.2,0.2,0.0]
b66 = [0.0,0.1,0.5,0.9,0.5,0.1,0.2,0.0,0.0,0.3,0.8,0.8,0.5,0.6,0.6,0.7,1.2,1.3,2.6,2.8,0.6]
g66 = [0.0,0.1,0.2,0.2,-0.4,-0.6,-0.5,-0.4,-0.2,0.2,0.4,0.5,0.6,0.3,0.5,0.5,0.9,1.8,3.6,3.6,4.0]
r66 = [0.0,0.0,0.1,0.2,-0.4,-0.6,-0.5,-0.4,-0.2,0.2,0.3,0.3,0.4,0.2,0.3,0.2,0.6,1.4,2.0,2.2,1.2]
c66 = [0.0,0.0,0.2,0.6,1.5,1.8,1.0,0.7,0.6,0.6,0.5,0.4,0.4,0.5,0.5,0.6,0.6,0.3,0.3,0.2,0.0]
b67 = [0.0,0.0,0.8,1.2,-0.1,-0.3,-0.2,-0.3,0.1,0.5,0.5,1.2,0.5,0.7,1.0,0.8,1.0,1.2,1.4,1.6,2.0]
g67 = [0.0,0.0,0.1,0.2,-0.4,-0.6,-0.5,-0.4,-0.1,0.2,0.4,0.7,1.2,0.6,1.1,0.6,0.8,2.5,4.2,3.0,4.2]
r67 = [0.0,0.0,0.1,0.2,-0.4,-0.6,-0.6,-0.5,-0.3,-0.1,0.2,0.4,0.3,0.4,0.2,0.5,0.6,1.2,2.4,1.8,1.5]
c67 = [0.0,0.0,0.2,0.6,1.6,2.0,1.1,0.8,0.6,0.5,0.6,0.9,1.1,0.6,0.6,0.8,0.9,0.3,0.2,0.1,0.1]
# row 7
b71 = [0.0,0.0,0.1,0.3,-0.2,-0.4,-0.4,-0.3,0.0,0.2,0.3,0.4,0.5,0.6,0.5,0.9,0.6,1.7,2.2,4.2,1.8]
g71 = [0.0,0.0,0.1,0.2,-0.4,-0.7,-0.6,-0.4,-0.1,0.2,0.5,0.7,1.0,0.7,0.8,0.9,0.6,2.8,2.4,1.6,3.8]
r71 = [0.0,0.0,0.1,0.2,-0.4,-0.7,-0.5,-0.1,0.0,0.1,0.2,0.3,0.2,0.3,0.1,0.3,0.3,0.6,0.6,0.8,1.3]
c71 = [0.0,0.0,0.1,0.4,0.9,1.0,0.8,0.6,0.6,0.5,0.5,0.5,0.5,0.5,0.6,0.5,0.5,0.4,0.3,0.2,0.2]
b72 = [0.1,0.0,0.1,0.2,-0.3,-0.5,-0.5,-0.3,-0.1,0.2,0.3,0.4,0.4,0.5,0.6,0.7,0.5,1.5,2.0,4.2,0.5]
g72 = [0.0,0.0,0.2,0.4,-0.4,-0.7,-0.7,-0.5,-0.2,0.2,0.5,0.8,0.5,0.7,0.5,0.8,0.6,2.8,1.6,2.8,3.8]
r72 = [0.0,0.0,0.1,0.2,-0.4,-0.6,-0.5,-0.3,-0.1,0.2,0.3,0.3,0.4,0.2,0.4,0.3,-0.1,0.4,0.6,0.7,1.5]
c72 = [0.0,0.0,0.1,0.4,1.0,1.3,0.9,0.7,0.6,0.5,0.4,0.4,0.3,0.4,0.5,0.6,0.5,0.3,0.2,0.2,0.1]
b73 = [0.2,0.0,0.1,0.3,-0.3,-0.4,-0.4,-0.3,-0.1,0.2,0.4,1.0,0.8,0.6,0.8,1.3,0.8,1.8,2.5,4.2,-1.0]
g73 = [0.0,0.0,0.5,0.9,-0.4,-0.7,-0.6,-0.5,-0.2,0.2,0.6,1.2,0.7,0.8,0.6,0.9,0.7,3.2,2.4,3.4,1.8]
r73 = [0.0,0.0,0.1,0.2,-0.4,-0.7,-0.6,-0.4,-0.1,0.1,0.2,0.3,0.4,0.2,0.3,0.2,0.5,0.7,0.9,1.0,1.7]
c73 = [0.0,0.0,0.1,0.4,0.9,1.1,0.8,0.6,0.5,0.4,0.4,0.4,0.3,0.4,0.4,0.4,0.4,0.3,0.3,0.2,0.1]
b74 = [0.2,0.0,0.2,0.3,-0.3,-0.5,-0.4,-0.3,-0.2,0.1,0.5,1.0,0.6,0.4,1.0,1.3,1.0,1.8,2.6,4.2,-1.0]
g74 = [0.0,0.0,0.6,1.0,-0.4,-0.7,-0.7,-0.5,-0.3,0.2,0.8,1.1,0.6,0.9,0.5,0.9,0.8,3.3,2.0,4.2,1.8]
r74 = [0.0,0.0,0.1,0.2,-0.4,-0.7,-0.6,-0.3,-0.1,0.1,0.3,0.4,0.3,0.2,0.3,0.2,0.5,0.6,1.1,1.2,1.6]
c74 = [0.0,0.0,0.1,0.5,0.9,1.1,0.8,0.6,0.5,0.4,0.4,0.4,0.3,0.4,0.4,0.5,0.4,0.3,0.2,0.1,0.1]
b75 = [0.0,0.0,0.2,0.3,-0.2,-0.4,-0.3,-0.4,-0.2,0.2,2.9,0.9,0.8,0.6,0.9,0.7,1.2,2.4,2.8,1.5,-1.0]
g75 = [0.0,0.1,0.3,0.5,-0.4,-0.7,-0.7,-0.6,-0.3,0.1,0.7,0.8,0.6,0.5,1.0,0.6,0.8,2.4,4.2,3.5,4.2]
r75 = [0.0,0.0,0.1,0.3,-0.3,-0.6,-0.6,-0.4,-0.2,0.1,0.4,0.5,0.6,0.2,0.4,0.3,0.3,1.6,2.3,2.0,1.4]
c75 = [0.0,0.0,0.1,0.5,1.8,2.2,1.6,0.9,0.8,0.7,0.6,0.7,0.7,0.6,0.6,0.5,0.3,0.3,0.2,0.1,0.1]
b76 = [0.0,0.0,0.1,0.2,0.1,0.2,0.1,0.1,0.2,0.4,0.5,0.5,0.6,0.4,0.5,0.6,0.8,1.0,2.6,3.0,1.3]
g76 = [0.0,0.1,0.5,0.8,-0.3,-0.6,-0.5,-0.4,-0.3,0.0,0.3,0.8,0.5,0.7,2.0,0.6,0.9,1.3,3.4,3.8,3.8]
r76 = [0.0,0.0,0.1,0.2,-0.3,-0.6,-0.6,-0.5,-0.3,-0.1,0.1,0.3,0.6,0.2,0.4,0.4,0.9,1.2,3.5,3.0,2.7]
c76 = [0.0,0.0,0.1,0.4,2.4,3.0,1.4,0.9,0.8,0.7,0.7,0.7,0.6,0.7,0.7,0.7,0.9,0.3,0.4,0.2,0.1]

# (row, column) of each electrode panel with its four band series
panels = [
    ((0, 1), b01, g01, r01, c01), ((0, 2), b02, g02, r02, c02), ((0, 3), b03, g03, r03, c03),
    ((0, 4), b04, g04, r04, c04), ((0, 5), b05, g05, r05, c05), ((0, 6), b06, g06, r06, c06),
    ((1, 0), b10, g10, r10, c10), ((1, 1), b11, g11, r11, c11), ((1, 2), b12, g12, r12, c12),
    ((1, 3), b13, g13, r13, c13), ((1, 4), b14, g14, r14, c14), ((1, 5), b15, g15, r15, c15),
    ((1, 6), b16, g16, r16, c16), ((1, 7), b17, g17, r17, c17),
    ((2, 0), b20, g20, r20, c20), ((2, 1), b21, g21, r21, c21), ((2, 2), b22, g22, r22, c22),
    ((2, 3), b23, g23, r23, c23), ((2, 4), b24, g24, r24, c24), ((2, 5), b25, g25, r25, c25),
    ((2, 6), b26, g26, r26, c26), ((2, 7), b27, g27, r27, c27),
    ((3, 0), b30, g30, r30, c30), ((3, 2), b32, g32, r32, c32), ((3, 3), b33, g33, r33, c33),
    ((3, 4), b34, g34, r34, c34), ((3, 5), b35, g35, r35, c35), ((3, 6), b36, g36, r36, c36),
    ((3, 7), b37, g37, r37, c37),
    ((4, 0), b40, g40, r40, c40), ((4, 1), b41, g41, r41, c41), ((4, 2), b42, g42, r42, c42),
    ((4, 3), b43, g43, r43, c43), ((4, 4), b44, g44, r44, c44), ((4, 5), b45, g45, r45, c45),
    ((4, 6), b46, g46, r46, c46), ((4, 7), b47, g47, r47, c47),
    ((5, 0), b50, g50, r50, c50), ((5, 1), b51, g51, r51, c51), ((5, 2), b52, g52, r52, c52),
    ((5, 3), b53, g53, r53, c53), ((5, 4), b54, g54, r54, c54), ((5, 5), b55, g55, r55, c55),
    ((5, 6), b56, g56, r56, c56), ((5, 7), b57, g57, r57, c57),
    ((6, 0), b60, g60, r60, c60), ((6, 1), b61, g61, r61, c61), ((6, 2), b62, g62, r62, c62),
    ((6, 3), b63, g63, r63, c63), ((6, 4), b64, g64, r64, c64), ((6, 5), b65, g65, r65, c65),
    ((6, 6), b66, g66, r66, c66), ((6, 7), b67, g67, r67, c67),
    ((7, 1), b71, g71, r71, c71), ((7, 2), b72, g72, r72, c72), ((7, 3), b73, g73, r73, c73),
    ((7, 4), b74, g74, r74, c74), ((7, 5), b75, g75, r75, c75), ((7, 6), b76, g76, r76, c76),
]

# motor-period shading on the reference panel (seconds)
mp_windows = [(-1.0, 2.0, "MP I"), (4.0, 7.0, "MP II")]

# ---- grid geometry (pixels)
COL_X0, COL_STEP = 50.0, 158.1
ROW_Y0, ROW_STEP = 45.5, 94.7
PANEL_W, PANEL_H = 120.0, 67.5
X_RANGE = [-1.8, 8.0]
Y_RANGE = [-0.95, 4.0]

FONT = "Liberation Sans, Arial, Helvetica, sans-serif"
AXIS_GREY = "#8f8f8f"
TEXT = "#1e1e1e"


def px(x):
    return x / W


def py(y):
    return 1 - y / H


# curved highlight band (outline in pixels: outer edge, then inner edge back)
band_outer = [(963, 10), (955, 30), (950, 45), (944, 75), (940, 100), (938, 130), (938, 160),
              (940, 190), (944, 220), (951, 250), (962, 278), (980, 300), (1005, 322),
              (1035, 345), (1070, 370), (1105, 390), (1140, 406), (1178, 420), (1212, 429),
              (1245, 437), (1278, 444), (1309, 452)]
band_inner = [(1309, 527), (1280, 522), (1240, 513), (1200, 501), (1160, 487), (1120, 470),
              (1080, 452), (1045, 430), (1015, 412), (985, 395), (960, 378), (940, 362),
              (922, 345), (906, 328), (893, 305), (883, 280), (875, 250), (869, 220),
              (866, 190), (865, 160), (866, 130), (869, 100), (873, 70), (878, 40), (885, 10)]
band_poly = band_outer + band_inner


def inside_band(x, y):
    hit = False
    n = len(band_poly)
    j = n - 1
    for i in range(n):
        xi, yi = band_poly[i]
        xj, yj = band_poly[j]
        if (yi > y) != (yj > y) and x < (xj - xi) * (y - yi) / (yj - yi) + xi:
            hit = not hit
        j = i
    return hit


def band_runs(points):
    """Consecutive runs of sample points that fall inside the band."""
    runs, cur = [], []
    for p in points:
        if inside_band(*p):
            cur.append(p)
        elif cur:
            runs.append(cur)
            cur = []
    if cur:
        runs.append(cur)
    return runs


def label(x, y, text, size=14, **kw):
    """Paper-positioned text given in pixel coordinates."""
    opts = dict(xref="paper", yref="paper", x=px(x), y=py(y), text=text, showarrow=False,
                xanchor="center", yanchor="middle",
                font=dict(family=FONT, size=size, color=TEXT))
    opts.update(kw)
    return opts


fig = go.Figure()
layout = {}
shapes = []
annotations = []

path = "M " + " L ".join(f"{px(x):.5f},{py(y):.5f}" for x, y in band_poly) + " Z"
shapes.append(dict(type="path", path=path, xref="paper", yref="paper",
                   fillcolor="#d3d3d3", line=dict(width=0), layer="below"))

for k, ((r, c), b, g, rd, cy) in enumerate(panels, start=1):
    sfx = "" if k == 1 else str(k)
    xa, ya = "x" + sfx, "y" + sfx
    left = COL_X0 + c * COL_STEP
    top = ROW_Y0 + r * ROW_STEP
    for series, color in zip([b, g, rd, cy], band_colors):
        fig.add_trace(go.Scatter(x=time_s, y=series, mode="lines", xaxis=xa, yaxis=ya,
                                 line=dict(color=color, width=2.8), showlegend=False,
                                 hoverinfo="skip"))
    common = dict(showline=True, linecolor=AXIS_GREY, linewidth=1, showgrid=False,
                  zeroline=False, ticks="inside", ticklen=3, tickwidth=1,
                  tickcolor=AXIS_GREY, tickfont=dict(family=FONT, size=14, color=TEXT),
                  fixedrange=True, automargin=False)
    layout["xaxis" + sfx] = dict(common, domain=[px(left), px(left + PANEL_W)], anchor=ya,
                                 range=X_RANGE, autorange=False, tickvals=x_ticks)
    layout["yaxis" + sfx] = dict(common, domain=[py(top + PANEL_H), py(top)], anchor=xa,
                                 range=Y_RANGE, autorange=False, tickvals=y_ticks)

    # axis stretches lying under the band are drawn darker
    bottom = top + PANEL_H
    xs = [(left + i, bottom) for i in range(int(PANEL_W) + 1)]
    ys = [(left, top + i) for i in range(int(PANEL_H) + 1)]
    for run in band_runs(xs) + band_runs(ys):
        (x0, y0), (x1, y1) = run[0], run[-1]
        if (x0, y0) == (x1, y1):
            continue
        shapes.append(dict(type="line", xref="paper", yref="paper",
                           x0=px(x0), y0=py(y0), x1=px(x1), y1=py(y1),
                           line=dict(color="#3a3a3a", width=1.4), layer="above"))

    if (r, c) == (1, 0):
        for t0, t1, text in mp_windows:
            shapes.append(dict(type="rect", xref=xa, yref=ya, x0=t0, x1=t1,
                               y0=Y_RANGE[0], y1=3.8, fillcolor="#e6e6e6",
                               line=dict(width=0), layer="below"))
            annotations.append(dict(xref=xa, yref=ya, x=(t0 + t1) / 2, y=3.8,
                                    text=text, showarrow=False, xanchor="center",
                                    yanchor="bottom",
                                    font=dict(family=FONT, size=14, color=TEXT)))
    if (r, c) == (2, 4):
        annotations.append(dict(xref=xa, yref=ya, x=4.3, y=-0.62, text="*",
                                showarrow=False, xanchor="center", yanchor="middle",
                                font=dict(family=FONT, size=13, color=TEXT)))

# axis captions
annotations.append(label(18, 168, "Rel. signal change [%]", size=13, textangle=-90))
annotations.append(label(107, 232, "[s]"))

# legend box
LEG_L, LEG_T, LEG_R, LEG_B = 1164, 39, 1302, 112
shapes.append(dict(type="rect", xref="paper", yref="paper", x0=px(LEG_L), x1=px(LEG_R),
                   y0=py(LEG_B), y1=py(LEG_T), line=dict(color="black", width=1),
                   fillcolor="white", layer="above"))
for i, (lt, rt, color) in enumerate(zip(band_left_text, band_right_text, band_colors)):
    yy = 50 + i * 16.8
    shapes.append(dict(type="line", xref="paper", yref="paper", x0=px(1173), x1=px(1215),
                       y0=py(yy), y1=py(yy), line=dict(color=color, width=3), layer="above"))
    annotations.append(label(1248, yy, lt, xanchor="right"))
    annotations.append(label(1299, yy, rt, xanchor="right"))

fig.update_layout(**layout)
fig.update_layout(width=W, height=H, autosize=False, margin=dict(l=0, r=0, t=0, b=0),
                  paper_bgcolor="white", plot_bgcolor="rgba(0,0,0,0)", showlegend=False,
                  shapes=shapes, annotations=annotations, font=dict(family=FONT))

fig.write_html("out.html")
